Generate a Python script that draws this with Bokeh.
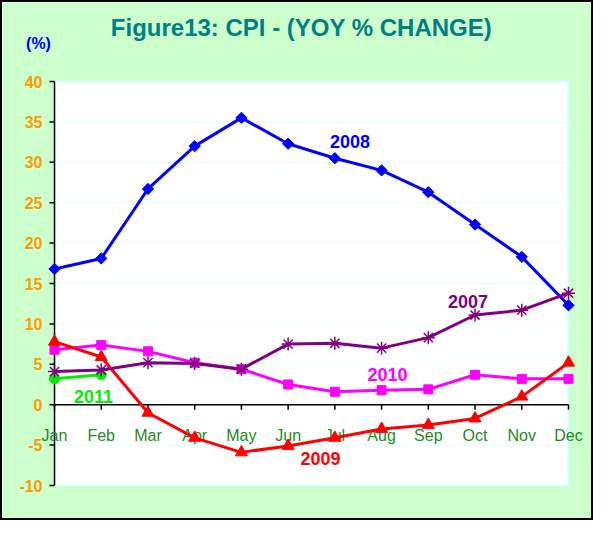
import math
from bokeh.plotting import figure
from bokeh.models import Label, ColumnDataSource, Range1d
from bokeh.core.properties import value
from bokeh.embed import file_html
from bokeh.resources import INLINE

months = ["Jan", "Feb", "Mar", "Apr", "May", "Jun", "Jul", "Aug", "Sep", "Oct", "Nov", "Dec"]
cpi_2007 = [4.1, 4.3, 5.2, 5.1, 4.4, 7.5, 7.6, 7.0, 8.3, 11.1, 11.7, 13.8]
cpi_2008 = [16.8, 18.1, 26.7, 32.0, 35.5, 32.3, 30.5, 29.0, 26.3, 22.3, 18.3, 12.3]
cpi_2009 = [7.8, 5.9, -1.0, -4.1, -5.9, -5.1, -4.1, -3.0, -2.5, -1.7, 1.0, 5.2]
cpi_2010 = [6.8, 7.4, 6.6, 5.2, 4.4, 2.5, 1.6, 1.8, 1.9, 3.7, 3.2, 3.2]
cpi_2011 = [3.2, 3.7]
y_ticks = [-10, -5, 0, 5, 10, 15, 20, 25, 30, 35, 40]

FONT = "Liberation Sans"
BG = "#CCFFCC"

# ---- layout (canvas pixels) ----
W, H = 593, 520
PL, PR, PT, PB = 52, 566, 79, 483          # plot-area box inside canvas
n = len(months)
xs = list(range(n))
x0, x1 = 0, n - 1
y0, y1 = y_ticks[0], y_ticks[-1]
kx = (PR - PL) / (x1 - x0)
ky = (PB - PT) / (y1 - y0)
xr = Range1d(x0 - PL / kx, x1 + (W - PR) / kx)
yr = Range1d(y0 - (H - PB) / ky, y1 + PT / ky)

def X(page_px):   # page pixel -> data x
    return xr.start + (page_px - 10) / kx

def Y(page_py):   # page pixel -> data y
    return yr.end - (page_py - 10) / ky

p = figure(width=W, height=H, output_backend="svg", toolbar_location=None,
           x_range=xr, y_range=yr, x_axis_location=None, y_axis_location=None,
           min_border=0)
p.styles = {"border": "2px solid black"}
p.background_fill_color = BG
p.border_fill_color = BG
p.outline_line_color = None
p.grid.visible = False

# white plot area
p.quad(left=[x0], right=[x1], bottom=[y0], top=[y1], fill_color="white",
       line_color="#CCFFFF", line_width=2)
# horizontal gridlines
p.segment(x0=[x0] * len(y_ticks), y0=y_ticks, x1=[x1] * len(y_ticks), y1=y_ticks,
          line_color="#DDFFFF", line_width=1)

# y axis
p.segment(x0=[x0], y0=[y0], x1=[x0], y1=[y1], line_color="black", line_width=1.5)
ytk = ColumnDataSource(dict(x=[x0] * len(y_ticks), xt=[x0 - 5 / kx] * len(y_ticks), y=y_ticks,
                            t=[str(v) for v in y_ticks]))
p.segment(x0="x", y0="y", x1="xt", y1="y", source=ytk, line_color="black", line_width=1.5)
p.text(x="x", y="y", text="t", source=ytk, text_font=value(FONT), text_font_size="16px",
       text_font_style="bold", text_color="#FF9900", text_align="right",
       text_baseline="middle", x_offset=-12)

# x axis at zero
p.segment(x0=[x0], y0=[0], x1=[x1], y1=[0], line_color="black", line_width=1.5)
xtk = ColumnDataSource(dict(x=xs, y=[0] * n, yt=[-5 / ky] * n, t=months))
p.segment(x0="x", y0="y", x1="x", y1="yt", source=xtk, line_color="black", line_width=1.5)
p.text(x="x", y="y", text="t", source=xtk, text_font=value(FONT), text_font_size="16px",
       text_color="#228B22", text_align="center", text_baseline="alphabetic", y_offset=31)

LW = 3
p.line(xs[:len(cpi_2011)], cpi_2011, line_color="#00EE00", line_width=LW)
p.scatter(xs[:len(cpi_2011)], cpi_2011, marker="circle", size=10, fill_color="#00EE00", line_color="#00EE00")

p.line(xs, cpi_2010, line_color="#FF00FF", line_width=LW)
p.scatter(xs, cpi_2010, marker="square", size=9, fill_color="#FF00FF", line_color="#FF00FF")

p.line(xs, cpi_2009, line_color="#FF0000", line_width=LW)
p.scatter(xs, cpi_2009, marker="triangle", size=12, fill_color="#FF0000", line_color="#FF0000")

p.line(xs, cpi_2008, line_color="#0000FF", line_width=LW)
p.scatter(xs, cpi_2008, marker="square", angle=math.pi / 4, size=8, fill_color="#0000FF", line_color="#0000FF")

p.line(xs, cpi_2007, line_color="#800080", line_width=LW)
p.scatter(xs, cpi_2007, marker="asterisk", size=13, line_color="#800080", line_width=1.5)

def lab(px, py, text, color, size):
    p.add_layout(Label(x=X(px), y=Y(py), text=text, text_color=color, text_font=FONT,
                       text_font_style="bold", text_font_size=size,
                       text_align="center", text_baseline="middle"))

lab(309, 35, "Figure13: CPI - (YOY % CHANGE)", "#008080", "24px")
lab(46, 51, "(%)", "#0000FF", "16px")
lab(357.5, 149, "2008", "#0000FF", "18px")
lab(475.5, 309, "2007", "#800080", "18px")
lab(395, 382, "2010", "#FF00FF", "18px")
lab(328, 465.5, "2009", "#FF0000", "18px")
lab(101, 404, "2011", "#00EE00", "18px")

open("out.html", "w").write(file_html(p, INLINE))
